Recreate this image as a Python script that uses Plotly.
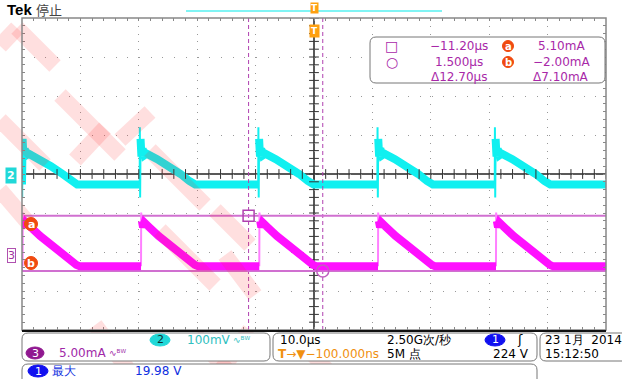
import plotly.graph_objects as go

time_range_us = [-50, 50]          # 10 us/div, 10 divisions
ch2_range_mv = [-400, 400]         # 100 mV/div
ch3_range_ma = [-9.56, 30.44]      # 5 mA/div, offset so 0 mA sits 2.09 div below centre

ch3_edges_us = [-49.9, -29.62, -9.37, 10.96, 31.16]
ch2_edges_us = [-50.05, -29.85, -9.55, 10.85, 30.95]

ch3_flat_ma = -1.4
ch3_cycle_t = [0.0, 0.03, 0.15, 0.35, 0.6, 0.9, 1.3, 3.0, 5.0, 7.0, 9.2, 9.8]
ch3_cycle_ma = [-1.4, 5.5, 4.4, 3.6, 4.2, 3.9, 3.7, 2.5, 1.2, -0.1, -1.2, -1.4]

ch2_flat_mv = -27
ch2_cycle_t = [0.0, 0.03, 0.08, 0.15, 0.3, 0.5, 0.8, 1.2, 3.0, 5.0, 7.0, 8.5, 9.5]
ch2_cycle_mv = [-27, 120, -60, 90, 45, 65, 48, 52, 38, 20, 0, -18, -27]

cursor_t_us = [-11.20, 1.500]
cursor_i_ma = [5.10, -2.00]

# ---------------- geometry helpers ----------------
W, H = 622, 379
L, R, T, B = 22, 16, 18, 49
PW, PH = W - L - R, H - T - B


def px(x):
    return (x - L) / PW


def py(y):
    return (H - B - y) / PH


def build(edges, ct, cv, flat, t0, t1, edge_n):
    """thick trace (flat + ramp) and thin trace (the fast edge)"""
    xs, ys, ex, ey = [t0], [flat], [], []
    for e in edges:
        for i, (dt, v) in enumerate(zip(ct, cv)):
            t = e + dt
            if t < t0 or t > t1:
                continue
            if 0 < i < edge_n:
                continue
            xs.append(t); ys.append(v)
            if i == 0:
                xs.append(None); ys.append(None)
        for dt, v in zip(ct[:edge_n + 1], cv[:edge_n + 1]):
            if t0 <= e + dt <= t1:
                ex.append(e + dt); ey.append(v)
        ex.append(None); ey.append(None)
    xs.append(t1); ys.append(flat)
    return xs, ys, ex, ey


fig = go.Figure()

c2x, c2y, c2ex, c2ey = build(ch2_edges_us, ch2_cycle_t, ch2_cycle_mv, ch2_flat_mv,
                             time_range_us[0], time_range_us[1], 3)
c3x, c3y, c3ex, c3ey = build(ch3_edges_us, ch3_cycle_t, ch3_cycle_ma, ch3_flat_ma,
                             time_range_us[0], time_range_us[1], 2)

CYAN = '#10F0F0'
MAG = '#FF10FF'
PURP = '#A828A8'
ORG = '#F04A10'

# cursor lines (horizontal) on ch3 axis
for v in cursor_i_ma:
    fig.add_trace(go.Scatter(x=time_range_us, y=[v, v], yaxis='y2', mode='lines',
                             line=dict(color='#D070D0', width=2), hoverinfo='skip'))

fig.add_trace(go.Scatter(x=c2ex, y=c2ey, mode='lines', line=dict(color=CYAN, width=2),
                         connectgaps=False, hoverinfo='skip'))
fig.add_trace(go.Scatter(x=c2x, y=c2y, mode='lines', line=dict(color=CYAN, width=8),
                         connectgaps=False, hoverinfo='skip'))
fig.add_trace(go.Scatter(x=c3ex, y=c3ey, yaxis='y2', mode='lines',
                         line=dict(color='#FF80FF', width=2), connectgaps=False, hoverinfo='skip'))
fig.add_trace(go.Scatter(x=c3x, y=c3y, yaxis='y2', mode='lines', line=dict(color=MAG, width=8),
                         connectgaps=False, hoverinfo='skip'))

# vertical cursors
for t in cursor_t_us:
    fig.add_trace(go.Scatter(x=[t, t], y=ch2_range_mv, mode='lines',
                             line=dict(color='#B040B0', width=1, dash='4px,3px'), hoverinfo='skip'))
# cursor markers
fig.add_trace(go.Scatter(x=[cursor_t_us[0]], y=[cursor_i_ma[0]], yaxis='y2', mode='markers',
                         marker=dict(symbol='square-open', size=11, color='#B040B0', line=dict(width=1.5)),
                         hoverinfo='skip'))
fig.add_trace(go.Scatter(x=[cursor_t_us[1]], y=[cursor_i_ma[1]], yaxis='y2', mode='markers',
                         marker=dict(symbol='circle-open', size=12, color='#C060C0', line=dict(width=1.5)),
                         hoverinfo='skip'))

# centre cross ticks
minor_t = [time_range_us[0] + 2 * k for k in range(51)]
minor_v = [ch2_range_mv[0] + 20 * k for k in range(41)]
fig.add_trace(go.Scatter(x=minor_t, y=[0] * len(minor_t), mode='markers',
                         marker=dict(symbol='line-ns-open', size=7, color='#333', line=dict(width=1, color='#333')),
                         hoverinfo='skip'))
fig.add_trace(go.Scatter(x=[0] * len(minor_v), y=minor_v, mode='markers',
                         marker=dict(symbol='line-ew-open', size=7, color='#333', line=dict(width=1, color='#333')),
                         hoverinfo='skip'))

shapes = []
# watermark strokes (translucent red)
wm = [((0, 46), (17, 28)), ((17, 28), (55, 66)), ((0, 120), (45, 165)),
      ((60, 95), (120, 155)), ((75, 160), (105, 128)), ((120, 140), (150, 112)),
      ((150, 150), (205, 205)), ((160, 230), (215, 285)), ((215, 210), (250, 245)),
      ((225, 255), (255, 295)), ((95, 325), (135, 379)), ((195, 335), (235, 379)),
      ((250, 330), (215, 379)), ((300, 340), (335, 379)), ((0, 190), (30, 225))]
for (a, b) in wm:
    shapes.append(dict(type='line', xref='paper', yref='paper', x0=px(a[0]), y0=py(a[1]),
                       x1=px(b[0]), y1=py(b[1]), line=dict(color='rgba(255,40,40,0.15)', width=16),
                       layer='above'))

# centre cross lines
shapes.append(dict(type='line', xref='paper', yref='paper', x0=0, x1=1, y0=0.5, y1=0.5,
                   line=dict(color='#222', width=1.5), layer='below'))
shapes.append(dict(type='line', xref='x', yref='paper', x0=0, x1=0, y0=0, y1=1,
                   line=dict(color='#222', width=1.5), layer='below'))
# frame
shapes.append(dict(type='rect', xref='paper', yref='paper', x0=0, x1=1, y0=0, y1=1,
                   line=dict(color='#888', width=1.5)))
shapes.append(dict(type='line', xref='paper', yref='paper', x0=0, x1=1, y0=py(331), y1=py(331),
                   line=dict(color='#111', width=2)))
# record-view cyan bar
shapes.append(dict(type='line', xref='paper', yref='paper', x0=px(186), x1=px(442), y0=py(11), y1=py(11),
                   line=dict(color='#80F4F4', width=2)))


def rrect(x0, y0, x1, y1, r=5, fill='white', line='#777', lw=1):
    rx, ry = r / PW, r / PH
    X0, X1, Y0, Y1 = px(x0), px(x1), py(y1), py(y0)
    path = (f'M {X0+rx},{Y0} L {X1-rx},{Y0} Q {X1},{Y0} {X1},{Y0+ry} L {X1},{Y1-ry} '
            f'Q {X1},{Y1} {X1-rx},{Y1} L {X0+rx},{Y1} Q {X0},{Y1} {X0},{Y1-ry} '
            f'L {X0},{Y0+ry} Q {X0},{Y0} {X0+rx},{Y0} Z')
    return dict(type='path', xref='paper', yref='paper', path=path, fillcolor=fill,
                line=dict(color=line, width=lw), layer='above')


shapes.append(rrect(370, 37, 605, 83, 6))
shapes.append(rrect(22, 333, 270, 361, 6))
shapes.append(rrect(273, 333, 537, 361, 6))
shapes.append(rrect(540, 333, 640, 361, 6))
shapes.append(rrect(22, 364, 537, 395, 6))


def ellipse(cx, cy, rx, ry, color):
    return dict(type='circle', xref='paper', yref='paper', x0=px(cx - rx), x1=px(cx + rx),
                y0=py(cy + ry), y1=py(cy - ry), fillcolor=color, line=dict(color=color, width=1),
                layer='above')


shapes.append(ellipse(508, 46, 5.5, 5.5, ORG))
shapes.append(ellipse(508, 62, 5.5, 5.5, ORG))
shapes.append(ellipse(31, 224, 6.5, 6.5, ORG))
shapes.append(ellipse(31, 263, 6.5, 6.5, ORG))
shapes.append(ellipse(160, 340, 10, 6, '#20D8D8'))
shapes.append(ellipse(35, 353, 9, 6, '#901890'))
shapes.append(ellipse(495, 340, 10, 6, '#1010F0'))
shapes.append(ellipse(38, 371, 10, 6, '#1010F0'))

FONT = 'DejaVu Sans'
ann = []


def text(x, y, s, color='#000', size=12, anchor='left', bold=False, fam=FONT):
    ann.append(dict(xref='paper', yref='paper', x=px(x), y=py(y), text=(f'<b>{s}</b>' if bold else s),
                    showarrow=False, xanchor=anchor, yanchor='middle',
                    font=dict(family=fam, size=size, color=color)))


# header
text(5, 9, 'Tek', '#000', 15, bold=True, fam='Liberation Sans')
text(34, 9, '停止', '#444', 13, fam='Noto Sans CJK SC')
# trigger markers
ann.append(dict(xref='paper', yref='paper', x=px(314), y=py(8), text='<b>T</b>', showarrow=False,
                bgcolor='#FFA010', font=dict(family=FONT, size=9, color='white'), borderpad=0,
                xanchor='center', yanchor='middle'))
ann.append(dict(xref='paper', yref='paper', x=px(314), y=py(31), text='<b>T</b>', showarrow=False,
                bgcolor='#FFA010', font=dict(family=FONT, size=9, color='white'), borderpad=1,
                xanchor='center', yanchor='middle'))
# channel markers
ann.append(dict(xref='paper', yref='paper', x=px(11), y=py(175), text='<b>2</b>', showarrow=False,
                bgcolor='#20D8D8', font=dict(family=FONT, size=11, color='white'), borderpad=1,
                xanchor='center', yanchor='middle'))
ann.append(dict(xref='paper', yref='paper', x=px(11), y=py(255), text='3', showarrow=False,
                bgcolor='white', bordercolor='#B050B0', borderwidth=1,
                font=dict(family=FONT, size=11, color='#A030A0'), borderpad=0,
                xanchor='center', yanchor='middle'))
text(31, 224, '<b>a</b>', 'white', 11, 'center')
text(31, 263, '<b>b</b>', 'white', 11, 'center')

# cursor readout
text(391.5, 46, '□', PURP, 14, 'center')
text(391.5, 62, '○', PURP, 14, 'center')
text(459, 46, '−11.20µs', PURP, 12, 'center')
text(459, 62, '1.500µs', PURP, 12, 'center')
text(459, 77, 'Δ12.70µs', PURP, 12, 'center')
text(508, 46, '<b>a</b>', 'white', 10, 'center')
text(508, 62, '<b>b</b>', 'white', 10, 'center')
text(561, 46, '5.10mA', PURP, 12, 'center')
text(561, 62, '−2.00mA', PURP, 12, 'center')
text(561, 77, 'Δ7.10mA', PURP, 12, 'center')

# bottom readouts
text(160, 340, '2', '#103030', 11, 'center')
text(185, 340, '100mV', '#30C0C0', 12)
text(231, 340, '∿ᴮᵂ', '#30C0C0', 9)
text(35, 353, '3', 'white', 11, 'center')
text(57, 353, '5.00mA', '#A028A8', 12)
text(107, 353, '∿ᴮᵂ', '#A028A8', 9)
text(278, 340, '10.0µs', '#000', 12)
text(385, 340, '2.50G次/秒', '#000', 12)
text(495, 340, '1', 'white', 11, 'center')
text(520, 340, 'ʃ', '#000', 13, 'center')
text(276, 354, '<b>T</b>→▼−100.000ns', '#F09010', 12)
text(385, 354, '5M 点', '#000', 12)
text(531, 354, '224 V', '#000', 12, 'right')
text(543, 340, '23 1月  2014', '#000', 12)
text(543, 354, '15:12:50', '#000', 12)
text(38, 371, '1', 'white', 11, 'center')
text(50, 371, '最大', '#1030E0', 12)
text(133, 371, '19.98 V', '#1030E0', 12)

fig.update_layout(
    width=W, height=H, margin=dict(l=L, r=R, t=T, b=B),
    paper_bgcolor='white', plot_bgcolor='white', showlegend=False,
    shapes=shapes, annotations=ann,
    xaxis=dict(range=time_range_us, dtick=10, showgrid=True, gridcolor='#999', griddash='1px,6.8px',
               gridwidth=1, zeroline=False, showticklabels=False, ticks='inside', ticklen=3,
               tickcolor='#888', minor=dict(dtick=2, ticks='inside', ticklen=3, tickcolor='#888'),
               mirror='allticks', showline=False, fixedrange=True),
    yaxis=dict(range=ch2_range_mv, dtick=100, showgrid=True, gridcolor='#999', griddash='1px,10.7px',
               gridwidth=1, zeroline=False, showticklabels=False, ticks='inside', ticklen=3,
               tickcolor='#888', minor=dict(dtick=20, ticks='inside', ticklen=3, tickcolor='#888'),
               mirror='allticks', showline=False, fixedrange=True),
    yaxis2=dict(range=ch3_range_ma, overlaying='y', showgrid=False, zeroline=False,
                showticklabels=False, ticks='', fixedrange=True),
)

fig.write_html('out.html')
